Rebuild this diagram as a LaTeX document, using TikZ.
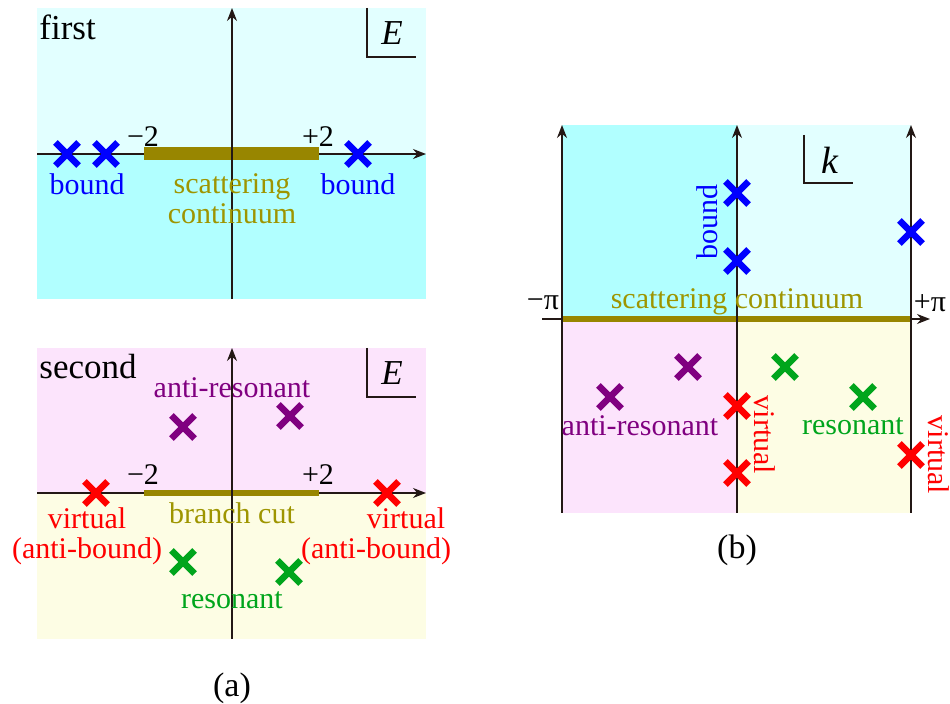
\documentclass[tikz,border=0pt]{standalone}
\usepackage{fontspec}
\setmainfont{Liberation Serif}
\usetikzlibrary{arrows.meta, shapes.misc}

\definecolor{cyanlight}{HTML}{E2FFFF}
\definecolor{cyandeep}{HTML}{B1FFFF}
\definecolor{pinklight}{HTML}{FCE4FC}
\definecolor{yellowlight}{HTML}{FDFDE4}
\definecolor{olivebar}{HTML}{988600}
\definecolor{olivetext}{HTML}{9E9500}
\definecolor{axisdark}{HTML}{231815}
\definecolor{poleblue}{HTML}{0000FF}
\definecolor{polered}{HTML}{FF0000}
\definecolor{polegreen}{HTML}{00A51C}
\definecolor{polepurple}{HTML}{800080}

\begin{document}
\begin{tikzpicture}[
    x=0.5pt, y=-0.5pt,
    axis/.style={line width=0.7pt, draw=axisdark, -{Stealth[length=6.5pt, width=5pt]}},
    frame/.style={line width=0.6pt, draw=axisdark},
    pole/.style={cross out, draw, line width=3.3pt, minimum size=8.3pt, inner sep=0pt},
    lbl/.style={font=\fontsize{15}{17}\selectfont, inner sep=0pt, align=center},
    sheet/.style={font=\fontsize{17.5}{19}\selectfont, inner sep=0pt, anchor=west}
]
\useasboundingbox (0,0) rectangle (950,704);

% (a) first sheet
\fill[cyanlight] (37,8) rectangle (426,154);
\fill[cyandeep] (37,154) rectangle (426,299);
\coordinate (fxl) at (37,154);
\coordinate (fxr) at (426,154);
\coordinate (fyb) at (232,299);
\coordinate (fyt) at (232,8);
\draw[axis] (fxl) -- (fxr);
\draw[olivebar, line width=6.5pt] (144,154) -- (319,154);
\draw[axis] (fyb) -- (fyt);
\draw[frame] (367,8) -- (367,57) -- (416,57);
\node[sheet] (first) at (39,27) {first};
\node[sheet, anchor=center] (fE) at (392,33) {\textit{E}};
\node[lbl] (fm2) at (143,137) {−2};
\node[lbl] (fp2) at (318,137) {+2};
\node[pole, poleblue] (fb1) at (67,154) {};
\node[pole, poleblue] (fb2) at (106,154) {};
\node[pole, poleblue] (fb3) at (358,154) {};
\node[lbl, poleblue] (fbl) at (87,184) {bound};
\node[lbl, poleblue] (fbr) at (358,184) {bound};
\node[lbl, olivetext] (fsc) at (232,199) {scattering\\[-2pt]continuum};

% (a) second sheet
\fill[pinklight] (37,348) rectangle (426,493);
\fill[yellowlight] (37,493) rectangle (426,639);
\coordinate (sxl) at (37,493);
\coordinate (sxr) at (426,493);
\coordinate (syb) at (232,639);
\coordinate (syt) at (232,348);
\draw[axis] (sxl) -- (sxr);
\draw[olivebar, line width=3pt] (144,493) -- (319,493);
\draw[axis] (syb) -- (syt);
\draw[frame] (367,348) -- (367,397) -- (416,397);
\node[sheet] (second) at (39,367) {second};
\node[sheet, anchor=center] (sE) at (392,373) {\textit{E}};
\node[lbl] (sm2) at (143,475) {−2};
\node[lbl] (sp2) at (318,475) {+2};
\node[pole, polepurple] (sa1) at (183,427) {};
\node[pole, polepurple] (sa2) at (290,416) {};
\node[lbl, polepurple] (sal) at (232,388) {anti-resonant};
\node[pole, polered] (sv1) at (96,493) {};
\node[pole, polered] (sv2) at (387,493) {};
\node[lbl, polered] (svl) at (87,536) {virtual\\[-2pt](anti-bound)};
\node[lbl, polered] (svr) at (376,536) {\hspace*{30pt}virtual\\[-2pt](anti-bound)};
\node[lbl, olivetext] (sbc) at (232,513) {branch cut};
\node[pole, polegreen] (sr1) at (183,562) {};
\node[pole, polegreen] (sr2) at (289,572) {};
\node[lbl, polegreen] (srl) at (232,600) {resonant};
\node[sheet, anchor=center, font=\fontsize{17}{19}\selectfont] (capa) at (232,688) {(a)};

% (b) k plane
\fill[cyandeep] (562,125) rectangle (737,319);
\fill[cyanlight] (737,125) rectangle (911,319);
\fill[pinklight] (562,319) rectangle (737,513);
\fill[yellowlight] (737,319) rectangle (911,513);
\coordinate (kxl) at (542,319);
\coordinate (kxr) at (930,319);
\draw[axis] (kxl) -- (kxr);
\draw[olivebar, line width=3.3pt] (562,319) -- (911,319);
\foreach \kx/\kn in {562/kl, 737/km, 911/kr} {
    \coordinate (\kn b) at (\kx,513);
    \coordinate (\kn t) at (\kx,125);
    \draw[axis] (\kn b) -- (\kn t);
}
\draw[frame] (804,135) -- (804,183) -- (853,183);
\node[sheet, anchor=center, font=\fontsize{19}{21}\selectfont] (kk) at (830,160) {\textit{k}};
\node[lbl] (kmpi) at (543,303) {−π};
\node[lbl] (kppi) at (930,303) {+π};
\node[lbl, olivetext] (ksc) at (737,302) {scattering continuum};
\node[pole, poleblue] (kb1) at (737,193) {};
\node[pole, poleblue] (kb2) at (737,261) {};
\node[pole, poleblue] (kb3) at (911,232) {};
\node[lbl, poleblue, rotate=90] (kbl) at (707,222) {bound};
\node[pole, polepurple] (ka1) at (688,367) {};
\node[pole, polepurple] (ka2) at (610,397) {};
\node[lbl, polepurple] (kal) at (640,426) {anti-resonant};
\node[pole, polered] (kv1) at (737,406) {};
\node[pole, polered] (kv2) at (737,473) {};
\node[pole, polered] (kv3) at (911,455) {};
\node[lbl, polered, rotate=-90] (kvl) at (765,435) {virtual};
\node[lbl, polered, rotate=-90] (kvr) at (939,455) {virtual};
\node[pole, polegreen] (kr1) at (785,367) {};
\node[pole, polegreen] (kr2) at (863,397) {};
\node[lbl, polegreen] (krl) at (853,426) {resonant};
\node[sheet, anchor=center, font=\fontsize{17}{19}\selectfont] (capb) at (737,550) {(b)};
\end{tikzpicture}
\end{document}
